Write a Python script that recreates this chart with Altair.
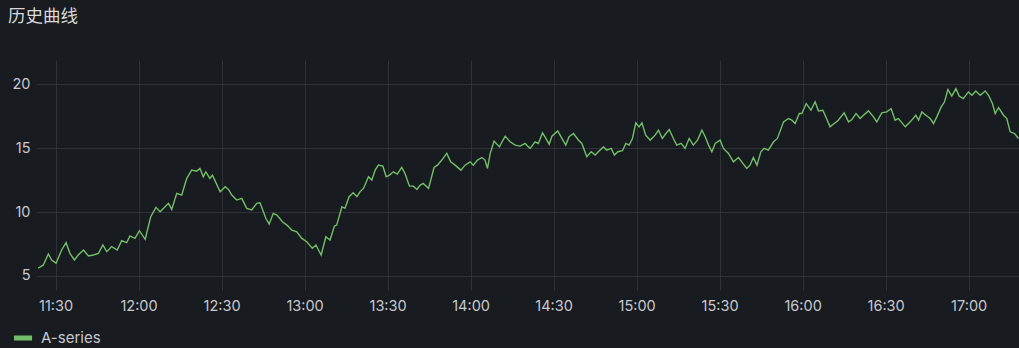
import altair as alt
import pandas as pd

# minutes after 11:30 and series values
minutes = [
    -6.3, -4.4, -2.6, -1.4, 0.2, 2.2, 3.8, 5.2, 6.8, 8.2, 10.1, 11.9, 13.7, 15.5,
    17.1, 18.5, 20.3, 22.3, 23.9, 25.7, 26.9, 28.7, 30.3, 32.4, 34.4, 36.3, 37.8,
    39.6, 40.8, 42.0, 43.8, 45.6, 47.4, 49.2, 51.0, 52.2, 53.4, 54.3, 55.8, 56.7,
    59.5, 61.3, 62.5, 63.7, 65.5, 67.3, 69.1, 70.9, 72.7, 73.9, 76.0, 77.2, 78.7,
    80.0, 82.0, 83.6, 85.4, 87.2, 89.0, 90.8, 92.8, 94.1, 96.0, 97.7, 99.2, 100.8,
    101.6, 103.5, 104.6, 106.1, 107.6, 108.9, 110.1, 111.3, 113.1, 114.3, 115.5,
    116.7, 118.3, 119.5, 120.7, 122.1, 123.5, 125.1, 126.3, 127.9, 129.3, 130.6,
    131.8, 132.9, 134.8, 136.8, 138.0, 139.6, 141.4, 142.8, 144.4, 146.5, 148.0,
    149.8, 151.0, 152.5, 154.1, 155.2, 156.1, 157.1, 158.5, 160.4, 162.5, 164.3,
    166.1, 167.9, 169.7, 171.5, 173.3, 174.5, 176.0, 177.2, 178.4, 179.4, 181.5,
    183.0, 184.4, 185.6, 187.2, 188.8, 190.2, 192.0, 193.6, 195.0, 196.8, 198.0,
    199.2, 200.8, 202.0, 203.2, 204.9, 206.1, 207.3, 208.5, 209.7, 210.9, 211.9,
    213.3, 214.9, 216.7, 217.9, 219.3, 220.6, 221.8, 223.3, 224.5, 226.1, 227.5,
    229.0, 230.5, 232.0, 233.6, 234.8, 236.0, 237.2, 238.4, 240.2, 241.4, 243.2,
    245.0, 246.8, 248.0, 249.8, 251.0, 252.2, 253.5, 254.9, 256.1, 257.6, 259.5,
    260.9, 263.1, 264.9, 266.1, 267.3, 268.8, 269.7, 271.3, 273.0, 274.5, 275.7,
    277.3, 278.8, 279.9, 281.4, 282.9, 285.0, 286.6, 287.8, 289.3, 290.8, 292.0,
    293.8, 295.6, 296.8, 298.6, 300.4, 302.0, 303.4, 304.6, 307.1, 308.9, 310.9,
    311.9, 313.1, 314.5, 316.1, 317.3, 318.5, 320.1, 321.3, 322.5, 323.9, 325.4,
    326.6, 328.1, 329.9, 331.2, 332.6, 334.2, 336.0, 337.2, 338.6, 339.6, 340.8,
    342.6, 343.8, 345.0, 346.6, 348.0,
]
values = [
    5.6, 5.86, 6.72, 6.25, 6.0, 7.03, 7.6, 6.77, 6.25, 6.64, 7.03, 6.56, 6.64, 6.77,
    7.42, 6.9, 7.3, 7.03, 7.76, 7.6, 8.13, 7.94, 8.54, 7.87, 9.63, 10.37, 10.03,
    10.42, 10.68, 10.21, 11.46, 11.33, 12.63, 13.28, 13.2, 13.41, 12.76, 13.15, 12.63, 12.89,
    11.59, 11.98, 11.77, 11.33, 10.94, 11.07, 10.29, 10.16, 10.68, 10.73, 9.51, 9.06, 9.9,
    9.77, 9.24, 8.98, 8.59, 8.46, 7.94, 7.68, 7.16, 7.42, 6.64, 8.07, 7.81, 8.91,
    8.98, 10.42, 10.29, 11.2, 11.51, 11.2, 11.6, 11.85, 12.76, 12.5, 13.28,
    13.67, 13.59, 12.76, 12.89, 13.15, 12.97, 13.49, 13.02, 12.03, 12.03, 11.77,
    12.11, 12.24, 11.85, 13.49, 13.67, 14.07, 14.59, 13.93, 13.67, 13.28, 13.67,
    13.93, 13.67, 14.07, 14.27, 14.07, 13.41, 14.59, 15.55, 15.1, 15.94, 15.5,
    15.24, 15.16, 15.37, 14.98, 15.5, 15.37, 16.2, 15.76, 15.31, 15.94, 16.35,
    15.76, 15.24, 15.89, 16.15, 15.68, 15.37, 14.33, 14.72, 14.46, 14.85, 15.1,
    14.85, 14.98, 14.46, 14.72, 14.8, 15.37, 15.24, 15.76, 16.98, 16.67, 16.98,
    16.02, 15.63, 16.02, 16.41, 15.76, 16.15, 16.46, 15.76, 15.24, 15.37, 14.98,
    15.76, 15.24, 15.63, 16.41, 15.89, 15.24, 14.72, 15.37, 15.63, 14.98, 14.59,
    13.93, 14.27, 13.93, 13.41, 13.67, 14.27, 13.67, 14.72, 14.98, 14.85, 15.5,
    15.76, 17.06, 17.32, 17.19, 16.93, 17.71, 17.71, 18.49, 17.97, 18.63, 17.92,
    17.97, 17.24, 16.67, 16.93, 17.19, 17.76, 17.06, 17.24, 17.71, 17.32, 17.58,
    17.92, 17.45, 17.06, 17.76, 17.84, 18.1, 17.19, 17.32, 16.67, 17.06, 17.58,
    17.19, 17.84, 17.58, 17.32, 16.93, 17.45, 18.23, 18.63, 19.59, 19.07, 19.66,
    19.07, 18.88, 19.4, 19.14, 19.48, 19.14, 19.48, 19.14, 18.49, 17.71, 18.18,
    17.58, 17.32, 16.28, 16.15, 15.76,
]
series_name = "A-series"
tick_labels = ["11:30", "12:00", "12:30", "13:00", "13:30", "14:00", "14:30",
               "15:00", "15:30", "16:00", "16:30", "17:00"]
y_ticks = [5, 10, 15, 20]
title_text = "历史曲线"

base = pd.Timestamp("2024-01-01 11:30:00")
df = pd.DataFrame({
    "time": [(base + pd.Timedelta(minutes=m)).strftime("%Y-%m-%dT%H:%M:%S") for m in minutes],
    "value": values,
    "series": series_name,
})

def dt(mins):
    t = base + pd.Timedelta(minutes=mins)
    return alt.DateTime(year=t.year, month=t.month, date=t.day,
                        hours=t.hour, minutes=t.minute, seconds=t.second)

tick_values = []
for lab in tick_labels:
    h, m = lab.split(":")
    tick_values.append(alt.DateTime(year=2024, month=1, date=1, hours=int(h), minutes=int(m)))

x_domain = [dt(-6.7), dt(348.2)]

FONT = "Inter, Noto Sans CJK SC, sans-serif"
TEXT = "#c7c8d0"
GRID = "#2e3136"
GREEN = "#73bf69"

line = alt.Chart(df).mark_line(strokeWidth=1.4, clip=True).encode(
    x=alt.X("time:T", scale=alt.Scale(domain=x_domain),
            axis=alt.Axis(values=tick_values, format="%H:%M", title=None,
                          domain=False, ticks=False, labelPadding=9,
                          grid=True, labelFlush=False)),
    y=alt.Y("value:Q", scale=alt.Scale(domain=[3.9, 21.9], nice=False, zero=False),
            axis=alt.Axis(values=y_ticks, title=None, domain=False, ticks=False,
                          labelPadding=7, grid=True)),
    color=alt.Color("series:N", scale=alt.Scale(range=[GREEN]),
                    legend=alt.Legend(title=None, orient="none", legendX=-26, legendY=266,
                                      symbolType="stroke", symbolStrokeWidth=5,
                                      symbolSize=330, labelFontSize=15, labelOffset=6,
                                      labelColor=TEXT, labelFont=FONT,
                                      symbolStrokeColor=GREEN)),
)

title = alt.Chart(pd.DataFrame({"t": [title_text]})).mark_text(
    align="left", baseline="middle", fontSize=17.5, font=FONT, color="#d8d9dc"
).encode(x=alt.value(-29), y=alt.value(-43), text="t:N")

chart = alt.layer(line, title).properties(
    width=982, height=230,
    background="#181b1f",
    padding={"left": 37, "top": 60, "right": 0, "bottom": 58},
    autosize=alt.AutoSizeParams(type="none"),
).configure_view(stroke=None).configure_axis(
    gridColor=GRID, gridWidth=1, labelColor=TEXT, labelFont=FONT, labelFontSize=14.5,
)

chart.save("out.html", embed_options={"renderer": "svg", "actions": False})
